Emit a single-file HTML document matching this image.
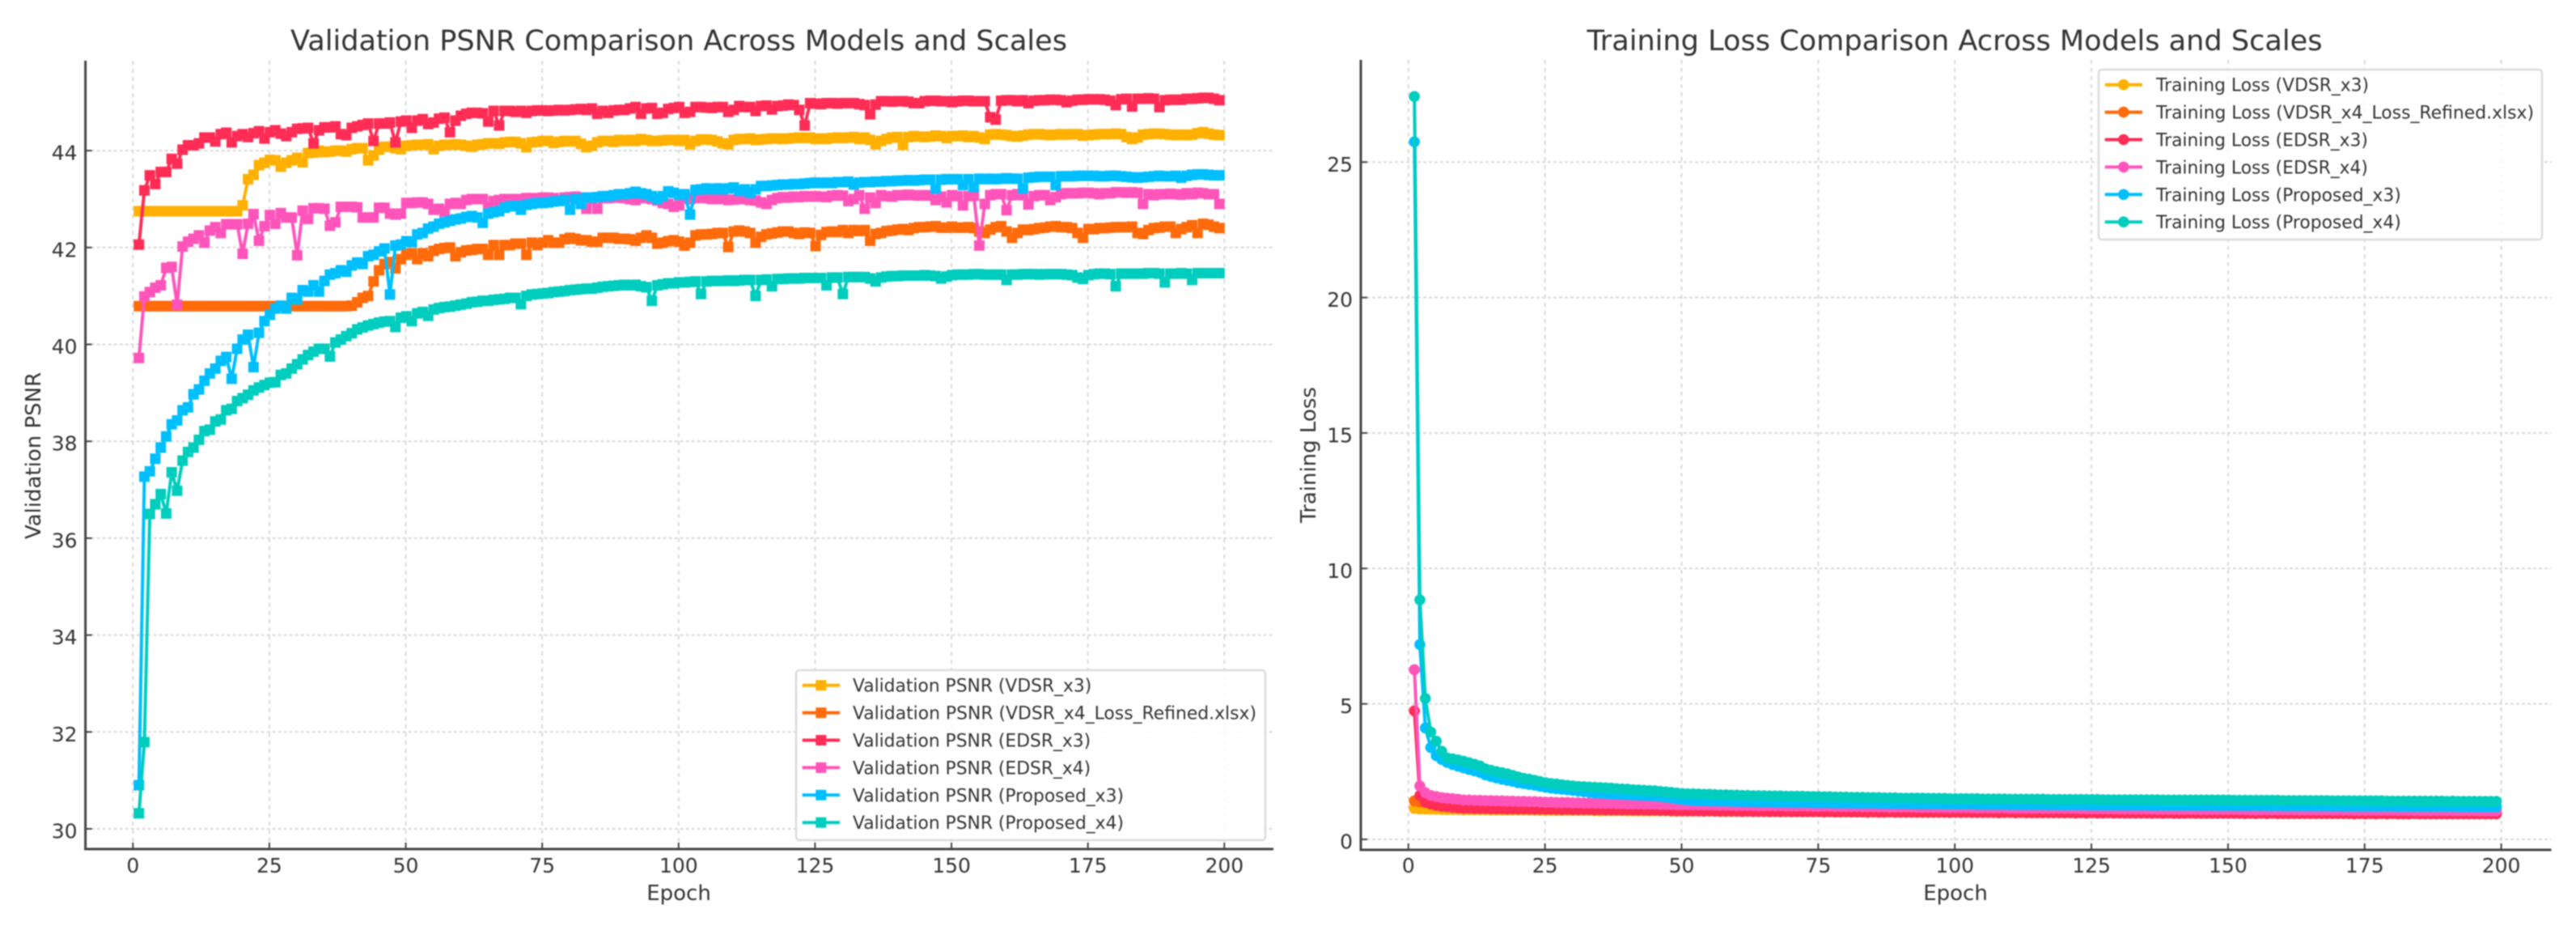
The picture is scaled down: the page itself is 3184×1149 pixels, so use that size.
<!DOCTYPE html>
<html lang="en">
<head>
<meta charset="utf-8">
<title>Validation PSNR and Training Loss Comparison</title>
<style>
html,body{margin:0;padding:0;background:#fff;width:3184px;height:1149px;overflow:hidden}
svg{display:block;filter:blur(0.8px)}
text{font-family:"DejaVu Sans","Liberation Sans",sans-serif;fill:#333}
</style>
</head>
<body>
<svg id="figure" xmlns="http://www.w3.org/2000/svg" width="3184" height="1149" viewBox="0 0 3184 1149"></svg>
<script>
const xTicks = [0,25,50,75,100,125,150,175,200];
const psnrTicks = [30,32,34,36,38,40,42,44];
const lossTicks = [0,5,10,15,20,25];
const seriesNames = ["VDSR_x3","VDSR_x4_Loss_Refined.xlsx","EDSR_x3","EDSR_x4","Proposed_x3","Proposed_x4"];

const psnrVdsrX3 = [
42.75,42.75,42.75,42.75,42.75,42.75,42.75,42.75,42.75,42.75,
42.75,42.75,42.75,42.75,42.75,42.75,42.75,42.75,42.75,42.87,
43.41,43.5,43.7,43.75,43.81,43.8,43.67,43.75,43.8,43.85,
43.76,43.95,43.96,44.0,43.97,43.98,44.0,44.0,43.98,44.03,
44.05,44.05,43.8,43.9,44.02,44.08,44.08,44.05,44.03,44.1,
44.11,44.12,44.12,44.13,44.03,44.1,44.12,44.12,44.13,44.12,
44.1,44.08,44.12,44.13,44.15,44.15,44.14,44.17,44.18,44.18,
44.15,44.07,44.17,44.18,44.2,44.2,44.16,44.18,44.2,44.19,
44.2,44.14,44.07,44.1,44.17,44.2,44.2,44.18,44.22,44.2,
44.22,44.2,44.24,44.22,44.2,44.2,44.21,44.22,44.22,44.2,
44.22,44.13,44.2,44.23,44.23,44.22,44.19,44.15,44.13,44.22,
44.24,44.24,44.25,44.22,44.23,44.24,44.25,44.25,44.24,44.25,
44.26,44.27,44.26,44.27,44.24,44.25,44.24,44.26,44.27,44.26,
44.27,44.28,44.24,44.27,44.22,44.13,44.2,44.24,44.27,44.28,
44.12,44.28,44.3,44.29,44.28,44.29,44.31,44.3,44.26,44.3,
44.3,44.31,44.28,44.3,44.27,44.24,44.33,44.34,44.33,44.32,
44.3,44.29,44.31,44.33,44.34,44.34,44.33,44.32,44.33,44.34,
44.33,44.34,44.34,44.31,44.32,44.33,44.34,44.34,44.34,44.35,
44.34,44.28,44.24,44.27,44.33,44.34,44.35,44.35,44.34,44.33,
44.32,44.33,44.32,44.33,44.36,44.38,44.35,44.33,44.32];

const psnrVdsrX4 = [
40.79,40.79,40.79,40.79,40.79,40.79,40.79,40.79,40.79,40.79,
40.79,40.79,40.79,40.79,40.79,40.79,40.79,40.79,40.79,40.79,
40.79,40.79,40.79,40.79,40.79,40.79,40.79,40.79,40.79,40.79,
40.79,40.79,40.79,40.79,40.79,40.79,40.79,40.79,40.79,40.8,
40.87,40.96,41.0,41.3,41.53,41.66,41.7,41.57,41.76,41.85,
41.88,41.76,41.88,41.82,41.93,41.97,41.99,42.0,41.82,41.9,
41.94,41.95,41.97,41.97,41.85,42.05,41.85,42.05,42.05,42.08,
42.08,41.85,42.1,42.05,42.1,42.15,42.1,42.1,42.17,42.2,
42.18,42.15,42.15,42.12,42.12,42.2,42.2,42.2,42.18,42.18,
42.17,42.14,42.2,42.25,42.2,42.08,42.1,42.13,42.15,42.12,
42.04,42.1,42.25,42.27,42.27,42.28,42.3,42.3,42.01,42.33,
42.35,42.33,42.3,42.1,42.22,42.27,42.29,42.31,42.33,42.33,
42.3,42.28,42.31,42.3,42.03,42.26,42.32,42.33,42.32,42.36,
42.3,42.36,42.34,42.36,42.14,42.28,42.3,42.34,42.35,42.37,
42.38,42.36,42.4,42.42,42.42,42.43,42.44,42.41,42.41,42.43,
42.41,42.41,42.42,42.4,42.33,42.3,42.37,42.42,42.44,42.33,
42.2,42.3,42.37,42.36,42.38,42.4,42.41,42.43,42.44,42.42,
42.42,42.4,42.3,42.2,42.38,42.38,42.4,42.4,42.41,42.42,
42.42,42.42,42.43,42.3,42.28,42.36,42.4,42.41,42.43,42.43,
42.3,42.38,42.42,42.46,42.3,42.49,42.47,42.43,42.4];

const psnrEdsrX3 = [
42.06,43.18,43.49,43.31,43.56,43.56,43.83,43.73,44.02,44.11,
44.11,44.15,44.27,44.27,44.19,44.34,44.37,44.17,44.3,44.34,
44.28,44.36,44.4,44.25,44.38,44.42,44.35,44.3,44.38,44.45,
44.46,44.47,44.15,44.42,44.48,44.48,44.5,44.34,44.32,44.47,
44.5,44.53,44.56,44.2,44.56,44.56,44.58,44.17,44.6,44.62,
44.47,44.62,44.65,44.55,44.58,44.66,44.68,44.38,44.62,44.72,
44.76,44.78,44.78,44.77,44.6,44.82,44.52,44.82,44.82,44.8,
44.82,44.78,44.82,44.83,44.83,44.82,44.83,44.84,44.83,44.84,
44.85,44.86,44.84,44.87,44.76,44.82,44.78,44.83,44.84,44.84,
44.87,44.9,44.76,44.87,44.88,44.76,44.78,44.86,44.88,44.9,
44.78,44.8,44.9,44.9,44.89,44.88,44.9,44.9,44.8,44.84,
44.92,44.9,44.9,44.82,44.92,44.93,44.85,44.92,44.93,44.95,
44.94,44.84,44.52,44.98,44.97,44.96,44.98,44.98,44.97,44.98,
44.98,44.98,44.96,44.94,44.75,44.95,45.02,45.02,45.01,45.02,
45.02,45.01,44.98,44.98,45.02,45.03,45.03,45.02,45.02,45.0,
45.02,45.03,45.03,45.02,45.02,45.02,44.69,44.64,45.03,45.04,
45.04,45.02,45.04,44.98,45.03,45.04,45.04,45.05,45.05,45.04,
45.0,45.03,45.05,45.05,45.06,45.06,45.06,45.05,45.03,44.94,
45.06,45.07,44.91,45.07,45.07,45.08,45.07,44.9,45.04,45.05,
45.05,45.05,45.07,45.07,45.08,45.09,45.09,45.07,45.04];

const psnrEdsrX4 = [
39.72,40.99,41.08,41.17,41.22,41.58,41.6,40.82,42.02,42.12,
42.18,42.25,42.1,42.35,42.42,42.3,42.48,42.48,42.48,41.87,
42.49,42.69,42.14,42.44,42.67,42.49,42.71,42.62,42.62,41.84,
42.76,42.59,42.81,42.81,42.8,42.45,42.52,42.84,42.84,42.84,
42.83,42.62,42.62,42.62,42.82,42.82,42.7,42.68,42.7,42.92,
42.92,42.93,42.93,42.9,42.78,42.8,42.74,42.9,42.92,42.9,
42.98,43.0,43.0,43.0,42.85,42.96,42.98,43.0,43.0,43.0,
43.0,43.02,43.02,43.01,43.03,43.03,43.02,42.98,43.03,43.04,
43.05,43.03,42.8,43.0,42.8,43.02,43.02,43.03,43.03,43.02,
43.0,42.98,43.03,43.02,43.0,42.97,42.92,42.9,42.84,42.87,
43.02,43.0,43.02,43.04,43.02,43.0,43.0,43.02,42.98,42.99,
43.0,43.0,42.98,42.97,42.93,42.9,42.98,43.02,43.04,43.03,
43.05,43.04,43.06,43.05,43.06,43.05,43.04,43.07,43.08,43.07,
42.96,43.0,43.08,42.8,43.03,42.92,43.08,43.06,43.05,43.08,
43.08,43.09,43.08,43.07,43.08,43.07,42.98,43.05,42.93,43.08,
43.06,42.87,43.06,43.07,42.04,42.9,43.08,43.1,43.1,42.77,
43.08,43.1,43.08,42.89,43.06,43.08,43.08,42.98,43.04,43.1,
43.12,43.12,43.12,43.13,43.13,43.12,43.1,43.12,43.12,43.14,
43.14,43.13,43.14,43.13,42.9,43.1,43.08,43.1,43.1,43.11,
43.1,43.09,43.12,43.1,43.13,43.12,43.1,43.1,42.9];

const psnrPropX3 = [
30.9,37.27,37.38,37.64,37.87,38.1,38.35,38.43,38.64,38.7,
38.97,39.07,39.25,39.4,39.5,39.66,39.74,39.29,39.91,40.1,
40.2,39.53,40.24,40.48,40.61,40.74,40.8,40.74,40.96,40.93,
41.12,41.09,41.22,41.09,41.31,41.44,41.47,41.53,41.5,41.63,
41.69,41.66,41.82,41.85,41.92,41.98,41.03,42.04,42.06,42.13,
42.11,42.27,42.3,42.39,42.43,42.49,42.52,42.55,42.58,42.6,
42.63,42.65,42.62,42.51,42.7,42.73,42.75,42.82,42.85,42.86,
42.78,42.88,42.9,42.92,42.92,42.93,42.95,42.96,42.98,42.78,
43.0,42.9,43.03,43.03,43.04,43.06,43.06,43.08,43.1,43.1,
43.12,43.15,43.12,43.1,43.06,43.0,43.06,43.16,43.13,43.09,
43.1,42.68,43.19,43.2,43.22,43.2,43.22,43.2,43.22,43.24,
43.17,43.2,43.13,43.2,43.27,43.27,43.28,43.29,43.3,43.3,
43.31,43.31,43.32,43.33,43.34,43.33,43.34,43.33,43.35,43.35,
43.36,43.3,43.34,43.35,43.35,43.36,43.36,43.37,43.37,43.38,
43.38,43.39,43.38,43.39,43.4,43.4,43.22,43.4,43.41,43.41,
43.41,43.29,43.41,43.25,43.42,43.41,43.42,43.41,43.42,43.43,
43.42,43.42,43.22,43.44,43.45,43.46,43.46,43.46,43.29,43.47,
43.47,43.47,43.48,43.48,43.48,43.48,43.47,43.47,43.48,43.48,
43.47,43.46,43.45,43.44,43.45,43.46,43.47,43.48,43.47,43.47,
43.48,43.44,43.48,43.5,43.51,43.51,43.5,43.49,43.49];

const psnrPropX4 = [
30.32,31.79,36.5,36.7,36.91,36.51,37.36,36.98,37.6,37.78,
37.87,38.03,38.21,38.24,38.41,38.45,38.64,38.67,38.83,38.89,
38.96,39.05,39.11,39.16,39.21,39.22,39.37,39.4,39.5,39.59,
39.69,39.78,39.85,39.91,39.91,39.75,40.04,40.1,40.17,40.23,
40.31,40.35,40.39,40.42,40.45,40.47,40.48,40.36,40.55,40.58,
40.48,40.64,40.67,40.59,40.72,40.75,40.77,40.78,40.8,40.82,
40.84,40.87,40.88,40.9,40.9,40.92,40.93,40.94,40.96,40.96,
40.83,41.0,41.03,41.04,41.05,41.06,41.08,41.09,41.1,41.12,
41.13,41.14,41.15,41.15,41.17,41.19,41.2,41.21,41.22,41.23,
41.22,41.23,41.2,41.18,40.9,41.22,41.24,41.26,41.26,41.28,
41.28,41.29,41.3,41.04,41.3,41.31,41.31,41.31,41.32,41.31,
41.32,41.33,41.33,41.0,41.33,41.34,41.2,41.35,41.35,41.36,
41.36,41.36,41.37,41.37,41.37,41.37,41.22,41.38,41.38,41.04,
41.39,41.39,41.39,41.39,41.36,41.3,41.38,41.4,41.41,41.41,
41.42,41.42,41.42,41.42,41.43,41.42,41.41,41.36,41.4,41.43,
41.44,41.44,41.44,41.45,41.45,41.44,41.44,41.44,41.44,41.33,
41.44,41.44,41.45,41.45,41.45,41.44,41.45,41.45,41.45,41.45,
41.44,41.43,41.38,41.35,41.43,41.45,41.46,41.46,41.45,41.2,
41.46,41.46,41.46,41.46,41.46,41.47,41.47,41.46,41.28,41.46,
41.46,41.47,41.46,41.33,41.47,41.47,41.47,41.47,41.47];

const lossVdsrX3 = [
1.14,1.12,1.12,1.11,1.11,1.1,1.1,1.1,1.1,1.09,
1.09,1.09,1.09,1.09,1.08,1.08,1.08,1.08,1.08,1.08,
1.08,1.08,1.08,1.07,1.07,1.07,1.07,1.07,1.07,1.07,
1.07,1.07,1.07,1.06,1.05,1.06,1.06,1.06,1.06,1.05,
1.05,1.05,1.05,1.05,1.05,1.05,1.05,1.04,1.04,1.04,
1.04,1.04,1.04,1.04,1.04,1.04,1.03,1.03,1.03,1.03,
1.03,1.03,1.03,1.03,1.03,1.03,1.03,1.02,1.02,1.02,
1.02,1.02,1.02,1.02,1.02,1.02,1.02,1.02,1.02,1.01,
1.01,1.01,1.01,1.01,1.01,1.01,1.01,1.01,1.01,1.01,
1.01,1.01,1.0,1.0,1.0,1.0,1.0,1.0,1.0,1.0,
1.0,1.0,1.0,1.0,1.0,1.0,1.0,1.0,0.99,0.99,
0.99,0.99,0.99,0.99,0.99,0.99,0.99,0.99,0.99,0.99,
0.99,0.99,0.99,0.99,0.99,0.98,0.98,0.98,0.98,0.98,
0.98,0.98,0.98,0.98,0.98,0.98,0.98,0.98,0.98,0.98,
0.98,0.98,0.97,0.97,0.97,0.97,0.97,0.97,0.97,0.97,
0.97,0.97,0.97,0.97,0.97,0.97,0.97,0.97,0.97,0.97,
0.96,0.96,0.96,0.96,0.96,0.96,0.96,0.96,0.96,0.96,
0.96,0.96,0.96,0.96,0.96,0.96,0.96,0.96,0.96,0.96,
0.95,0.95,0.95,0.95,0.95,0.95,0.95,0.95,0.95,0.95,
0.95,0.95,0.95,0.95,0.95,0.95,0.95,0.95,0.95];

const lossVdsrX4 = [
1.42,1.38,1.36,1.35,1.35,1.35,1.35,1.35,1.35,1.35,
1.35,1.36,1.36,1.36,1.36,1.36,1.36,1.36,1.36,1.36,
1.36,1.36,1.36,1.35,1.35,1.35,1.34,1.34,1.34,1.33,
1.32,1.31,1.3,1.29,1.28,1.28,1.27,1.26,1.25,1.25,
1.24,1.23,1.23,1.22,1.22,1.21,1.21,1.2,1.2,1.2,
1.19,1.19,1.18,1.18,1.18,1.17,1.17,1.17,1.16,1.16,
1.16,1.16,1.15,1.15,1.15,1.15,1.14,1.14,1.14,1.14,
1.14,1.13,1.13,1.13,1.13,1.13,1.12,1.12,1.12,1.12,
1.12,1.12,1.11,1.11,1.11,1.11,1.11,1.11,1.11,1.1,
1.1,1.1,1.1,1.1,1.1,1.1,1.1,1.09,1.09,1.09,
1.09,1.09,1.09,1.09,1.09,1.08,1.08,1.08,1.08,1.08,
1.08,1.08,1.08,1.08,1.07,1.07,1.07,1.07,1.07,1.07,
1.07,1.07,1.07,1.06,1.06,1.06,1.06,1.06,1.06,1.06,
1.06,1.06,1.05,1.05,1.05,1.05,1.05,1.05,1.05,1.05,
1.05,1.05,1.04,1.04,1.04,1.04,1.04,1.04,1.04,1.04,
1.04,1.04,1.03,1.03,1.03,1.03,1.03,1.03,1.03,1.03,
1.03,1.03,1.02,1.02,1.02,1.02,1.02,1.02,1.02,1.02,
1.02,1.02,1.01,1.01,1.01,1.01,1.01,1.01,1.01,1.01,
1.01,1.01,1.0,1.0,1.0,1.0,1.0,1.0,1.0,1.0,
1.0,1.0,1.0,1.0,1.0,1.0,1.0,1.0,1.0];

const lossEdsrX3 = [
4.74,1.62,1.38,1.3,1.25,1.22,1.2,1.18,1.16,1.15,
1.15,1.14,1.14,1.14,1.13,1.13,1.13,1.12,1.13,1.12,
1.12,1.12,1.11,1.12,1.11,1.11,1.11,1.1,1.11,1.1,
1.1,1.1,1.1,1.09,1.1,1.09,1.09,1.09,1.08,1.09,
1.08,1.08,1.08,1.07,1.08,1.07,1.07,1.06,1.05,1.05,
1.05,1.05,1.05,1.04,1.05,1.04,1.04,1.04,1.04,1.04,
1.03,1.04,1.03,1.03,1.03,1.02,1.03,1.02,1.03,1.02,
1.02,1.02,1.02,1.02,1.02,1.01,1.02,1.01,1.01,1.02,
1.01,1.01,1.01,1.0,1.01,1.0,1.0,1.01,1.0,1.0,
1.0,1.0,1.0,1.0,1.0,1.0,1.0,1.0,0.99,1.0,
0.99,1.0,0.99,0.99,0.99,0.99,0.99,0.98,0.99,0.99,
0.98,0.99,0.98,0.98,0.98,0.98,0.98,0.98,0.98,0.98,
0.98,0.97,0.98,0.97,0.98,0.97,0.97,0.98,0.97,0.97,
0.97,0.97,0.97,0.97,0.97,0.96,0.97,0.96,0.97,0.96,
0.96,0.96,0.97,0.96,0.96,0.96,0.96,0.96,0.96,0.96,
0.96,0.96,0.95,0.96,0.95,0.96,0.95,0.96,0.95,0.95,
0.95,0.95,0.95,0.95,0.95,0.95,0.95,0.95,0.95,0.95,
0.95,0.95,0.94,0.95,0.94,0.95,0.94,0.95,0.94,0.95,
0.94,0.94,0.94,0.95,0.94,0.94,0.94,0.94,0.94,0.94,
0.94,0.94,0.94,0.94,0.94,0.94,0.94,0.94,0.94];

const lossEdsrX4 = [
6.26,1.97,1.72,1.62,1.58,1.54,1.52,1.5,1.48,1.45,
1.45,1.44,1.44,1.43,1.43,1.42,1.42,1.41,1.41,1.4,
1.4,1.39,1.39,1.38,1.37,1.37,1.36,1.36,1.36,1.35,
1.35,1.34,1.34,1.34,1.33,1.33,1.33,1.32,1.32,1.31,
1.31,1.31,1.3,1.3,1.3,1.29,1.29,1.29,1.28,1.28,
1.28,1.27,1.27,1.27,1.27,1.26,1.26,1.26,1.26,1.25,
1.25,1.25,1.25,1.24,1.24,1.24,1.24,1.24,1.23,1.23,
1.23,1.23,1.22,1.22,1.22,1.22,1.22,1.21,1.21,1.21,
1.21,1.21,1.2,1.2,1.2,1.2,1.2,1.19,1.19,1.19,
1.19,1.19,1.18,1.18,1.18,1.18,1.18,1.17,1.17,1.17,
1.17,1.17,1.17,1.16,1.16,1.16,1.16,1.16,1.16,1.15,
1.15,1.15,1.15,1.15,1.15,1.14,1.14,1.14,1.14,1.14,
1.14,1.14,1.13,1.13,1.13,1.13,1.13,1.13,1.13,1.12,
1.12,1.12,1.12,1.12,1.12,1.12,1.11,1.11,1.11,1.11,
1.11,1.11,1.11,1.11,1.1,1.1,1.1,1.1,1.1,1.1,
1.1,1.1,1.1,1.09,1.09,1.09,1.09,1.09,1.09,1.09,
1.09,1.09,1.08,1.08,1.08,1.08,1.08,1.08,1.08,1.08,
1.08,1.08,1.07,1.07,1.07,1.07,1.07,1.07,1.07,1.07,
1.07,1.07,1.07,1.06,1.06,1.06,1.06,1.06,1.06,1.06,
1.06,1.06,1.06,1.06,1.06,1.05,1.05,1.05,1.05];

const lossPropX3 = [
25.75,7.19,4.11,3.39,3.09,2.95,2.84,2.76,2.7,2.64,
2.58,2.53,2.47,2.38,2.32,2.27,2.22,2.18,2.14,2.09,
2.06,2.03,2.0,1.96,1.92,1.89,1.87,1.85,1.83,1.81,
1.78,1.76,1.74,1.71,1.7,1.69,1.68,1.67,1.66,1.65,
1.64,1.63,1.62,1.61,1.6,1.58,1.56,1.53,1.5,1.47,
1.45,1.44,1.43,1.43,1.42,1.42,1.41,1.41,1.4,1.4,
1.39,1.39,1.39,1.38,1.38,1.38,1.37,1.37,1.37,1.36,
1.36,1.36,1.36,1.35,1.35,1.35,1.35,1.34,1.34,1.34,
1.34,1.33,1.33,1.33,1.33,1.33,1.32,1.32,1.32,1.32,
1.32,1.31,1.31,1.31,1.31,1.31,1.31,1.3,1.3,1.3,
1.3,1.3,1.3,1.29,1.29,1.29,1.29,1.29,1.29,1.28,
1.28,1.28,1.28,1.28,1.28,1.28,1.27,1.27,1.27,1.27,
1.27,1.27,1.27,1.27,1.26,1.26,1.26,1.26,1.26,1.26,
1.26,1.26,1.26,1.26,1.26,1.25,1.25,1.25,1.25,1.25,
1.25,1.25,1.25,1.25,1.25,1.25,1.25,1.24,1.24,1.25,
1.24,1.24,1.24,1.24,1.24,1.24,1.24,1.23,1.24,1.23,
1.23,1.23,1.23,1.23,1.23,1.23,1.23,1.23,1.22,1.23,
1.22,1.22,1.22,1.22,1.22,1.22,1.22,1.22,1.22,1.22,
1.21,1.21,1.21,1.21,1.21,1.21,1.21,1.21,1.21,1.21,
1.21,1.2,1.2,1.2,1.2,1.2,1.2,1.2,1.2];

const lossPropX4 = [
27.42,8.84,5.2,3.96,3.62,3.25,3.0,2.97,2.93,2.88,
2.83,2.77,2.71,2.6,2.55,2.5,2.46,2.42,2.36,2.3,
2.25,2.22,2.18,2.13,2.09,2.06,2.04,2.01,1.99,1.97,
1.95,1.94,1.93,1.92,1.91,1.9,1.89,1.87,1.86,1.85,
1.83,1.82,1.81,1.8,1.79,1.77,1.75,1.73,1.71,1.69,
1.68,1.68,1.67,1.66,1.66,1.65,1.64,1.64,1.63,1.63,
1.62,1.62,1.61,1.61,1.61,1.6,1.6,1.6,1.59,1.59,
1.59,1.59,1.58,1.58,1.58,1.57,1.57,1.56,1.56,1.56,
1.55,1.55,1.55,1.54,1.54,1.54,1.53,1.53,1.53,1.52,
1.52,1.52,1.52,1.52,1.51,1.51,1.51,1.51,1.5,1.5,
1.5,1.5,1.5,1.5,1.49,1.49,1.49,1.49,1.49,1.48,
1.48,1.48,1.48,1.48,1.48,1.48,1.47,1.47,1.47,1.47,
1.47,1.47,1.47,1.47,1.47,1.47,1.46,1.46,1.46,1.46,
1.46,1.46,1.46,1.46,1.46,1.46,1.46,1.45,1.45,1.45,
1.45,1.45,1.45,1.45,1.45,1.45,1.45,1.45,1.45,1.45,
1.44,1.44,1.44,1.44,1.44,1.44,1.44,1.44,1.44,1.43,
1.43,1.43,1.43,1.43,1.43,1.43,1.43,1.43,1.42,1.42,
1.42,1.42,1.42,1.42,1.42,1.42,1.42,1.42,1.41,1.41,
1.41,1.41,1.41,1.41,1.41,1.41,1.41,1.41,1.41,1.4,
1.41,1.4,1.4,1.4,1.4,1.4,1.4,1.4,1.4];

const seriesColors = ["#FFB000","#FF6A0A","#FF2D55","#FF55BB","#00BFFF","#00CDBD"];
const psnrSeries = [psnrVdsrX3,psnrVdsrX4,psnrEdsrX3,psnrEdsrX4,psnrPropX3,psnrPropX4];
const lossSeries = [lossVdsrX3,lossVdsrX4,lossEdsrX3,lossEdsrX4,lossPropX3,lossPropX4];

const svg = document.getElementById('figure');
const NS = 'http://www.w3.org/2000/svg';

function make(parent, tag, attrs, text) {
  const el = document.createElementNS(NS, tag);
  for (const k in attrs) el.setAttribute(k, attrs[k]);
  if (text !== undefined) el.textContent = text;
  parent.appendChild(el);
  return el;
}

function drawChart(cfg) {
  const chart = make(svg, 'g', {});
  
  

  const xPos = e => cfg.x0 + (e - 0) * cfg.xScale;
  const yPos = v => cfg.yBase - (v - cfg.yMin) * cfg.yScale;

  const title = make(chart, 'text', {x: cfg.titleX, y: 62, 'text-anchor': 'middle', 'font-size': 35, textLength: cfg.titleLen, lengthAdjust: 'spacingAndGlyphs'}, cfg.title);
  
  

  const grid = make(chart, 'g', {stroke: '#d9d9d9', 'stroke-width': 2, fill: 'none'});
  
  

  xTicks.forEach(t => {
    const line = make(grid, 'line', {x1: xPos(t), x2: xPos(t), y1: cfg.top, y2: cfg.bottom, 'stroke-dasharray': '5 5'});
    
    
  });
  cfg.yTicks.forEach(t => {
    const line = make(grid, 'line', {x1: cfg.left, x2: cfg.right, y1: yPos(t), y2: yPos(t), 'stroke-dasharray': '4 3'});
    
    
  });

  const marks = make(chart, 'g', {});
  
  

  cfg.series.forEach((vals, idx) => {
    const color = seriesColors[idx];
    const group = make(marks, 'g', {});
    
    
    const pts = vals.map((v, i) => xPos(i + 1 + cfg.epochShift).toFixed(2) + ',' + yPos(v).toFixed(2)).join(' ');
    const line = make(group, 'polyline', {points: pts, fill: 'none', stroke: color, 'stroke-width': 4, 'stroke-linejoin': 'round'});
    
    
    vals.forEach((v, i) => {
      const cx = xPos(i + 1 + cfg.epochShift);
      const cy = yPos(v);
      let m;
      if (cfg.marker === 'square') {
        m = make(group, 'rect', {x: cx - 6.5, y: cy - 6.5, width: 13, height: 13, fill: color});
      } else {
        m = make(group, 'circle', {cx: cx, cy: cy, r: 6.8, fill: color});
      }
      
      
    });
  });

  const axes = make(chart, 'g', {stroke: '#444', fill: 'none'});
  
  

  const ySpine = make(axes, 'line', {x1: cfg.left, x2: cfg.left, y1: cfg.top, y2: cfg.bottom + 1.5, 'stroke-width': 3});
  
  
  const xSpine = make(axes, 'line', {x1: cfg.left - 1.5, x2: cfg.right, y1: cfg.bottom, y2: cfg.bottom, 'stroke-width': 3});
  
  

  xTicks.forEach(t => {
    const tick = make(axes, 'line', {x1: xPos(t), x2: xPos(t), y1: cfg.bottom, y2: cfg.bottom - 8, 'stroke-width': 2});
    
    
    const lab = make(chart, 'text', {x: xPos(t), y: 1078, 'text-anchor': 'middle', 'font-size': 25}, String(t));
    
    
  });
  cfg.yTicks.forEach(t => {
    const tick = make(axes, 'line', {x1: cfg.left, x2: cfg.left + 8, y1: yPos(t), y2: yPos(t), 'stroke-width': 2});
    
    
    const lab = make(chart, 'text', {x: cfg.left - 10, y: yPos(t) + 11.5, 'text-anchor': 'end', 'font-size': 25}, String(t));
    
    
  });

  const xTitle = make(chart, 'text', {x: cfg.xTitleX, y: 1112, 'text-anchor': 'middle', 'font-size': 26}, 'Epoch');
  
  
  const yTitle = make(chart, 'text', {x: 0, y: 0, 'text-anchor': 'middle', 'font-size': 26, transform: 'translate(' + cfg.yTitleX + ',' + cfg.yTitleY + ') rotate(-90)'}, cfg.yLabel);
  
  

  const legend = make(chart, 'g', {});
  
  
  const frame = make(legend, 'rect', {x: cfg.legX, y: cfg.legY, width: cfg.legW, height: cfg.legH, rx: 4, fill: '#fff', 'fill-opacity': 0.85, stroke: '#dcdcdc', 'stroke-width': 2.5});
  
  
  seriesNames.forEach((name, idx) => {
    const rowY = cfg.legY + 18.7 + idx * 33.9;
    const row = make(legend, 'g', {});
    
    
    const h = make(row, 'line', {x1: cfg.legX + 7.7, x2: cfg.legX + 54, y1: rowY, y2: rowY, stroke: seriesColors[idx], 'stroke-width': 4});
    
    
    const mx = cfg.legX + 30.8;
    let m;
    if (cfg.marker === 'square') {
      m = make(row, 'rect', {x: mx - 6.5, y: rowY - 6.5, width: 13, height: 13, fill: seriesColors[idx]});
    } else {
      m = make(row, 'circle', {cx: mx, cy: rowY, r: 6.8, fill: seriesColors[idx]});
    }
    
    
    const attrs = {x: cfg.legTextX, y: rowY + 8, 'font-size': 21.8};
    if (idx === 1) {
      attrs.textLength = cfg.legLongLen;
      attrs.lengthAdjust = 'spacingAndGlyphs';
    }
    const txt = make(row, 'text', attrs, cfg.legPrefix + ' (' + name + ')');
    
    
  });
}

drawChart({
  key: 'validation-psnr', title: 'Validation PSNR Comparison Across Models and Scales',
  titleX: 839, titleLen: 960, x0: 164.3, xScale: 6.745, yBase: 1024, yMin: 30, yScale: 59.85,
  top: 75, bottom: 1049, left: 105.6, right: 1574, yTicks: psnrTicks, series: psnrSeries, marker: 'square', epochShift: 0.1,
  xTitleX: 839, yTitleX: 50, yTitleY: 563, yLabel: 'Validation PSNR',
  legX: 984, legY: 828, legW: 580, legH: 210, legTextX: 1054, legLongLen: 499, legPrefix: 'Validation PSNR'
});
drawChart({
  key: 'training-loss', title: 'Training Loss Comparison Across Models and Scales',
  titleX: 2416, titleLen: 909, x0: 1740.8, xScale: 6.754, yBase: 1037, yMin: 0, yScale: 33.47,
  top: 74, bottom: 1050, left: 1682, right: 3153.5, yTicks: lossTicks, series: lossSeries, marker: 'circle', epochShift: 0.1,
  xTitleX: 2417, yTitleX: 1626, yTitleY: 562, yLabel: 'Training Loss',
  legX: 2594, legY: 86, legW: 548, legH: 210, legTextX: 2665, legLongLen: 467, legPrefix: 'Training Loss'
});
</script>
</body>
</html>
